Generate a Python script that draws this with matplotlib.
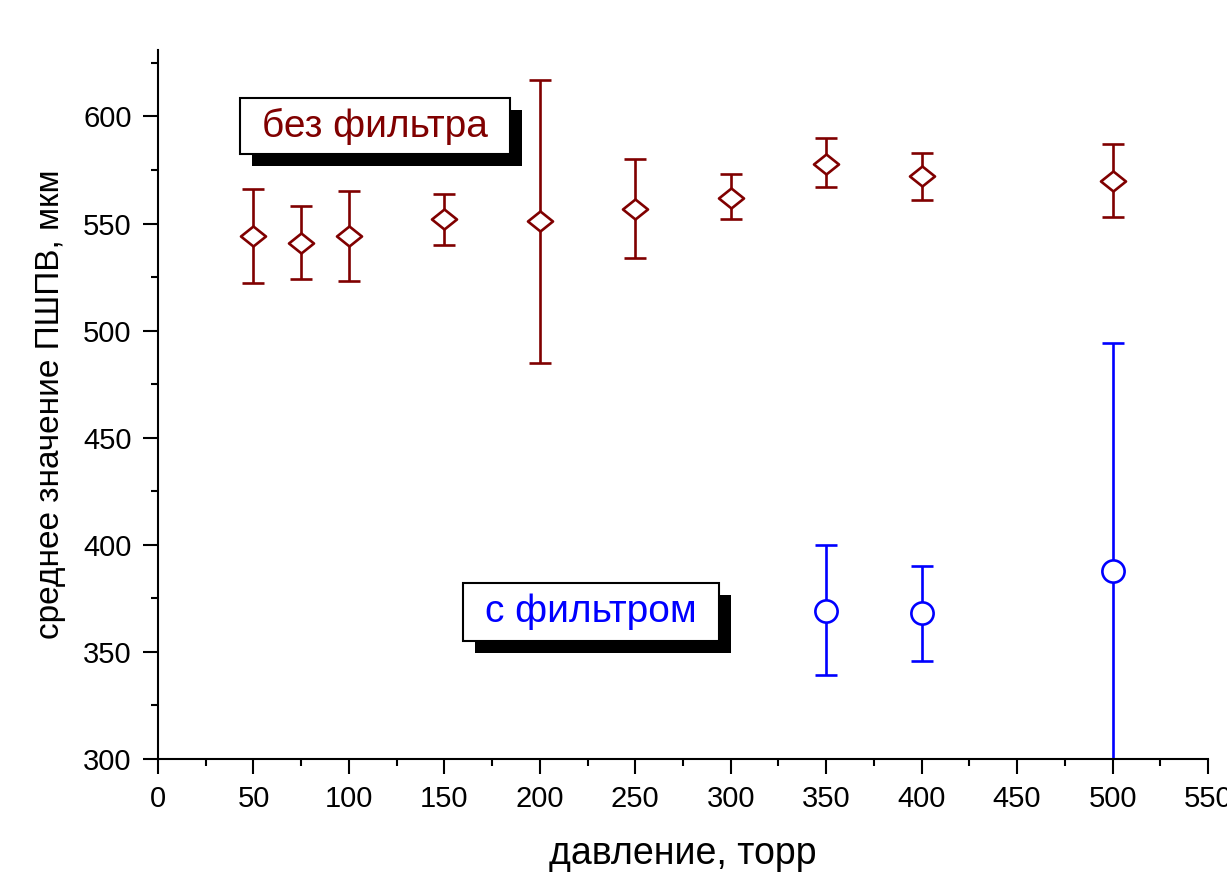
import numpy as np
import matplotlib
matplotlib.use("Agg")
import matplotlib.pyplot as plt
from matplotlib.path import Path
from matplotlib.patches import Rectangle
from matplotlib.ticker import MultipleLocator
from matplotlib import transforms

plt.rcParams['font.family'] = ['Liberation Sans', 'DejaVu Sans']

# --- measured FWHM vs pressure -------------------------------------------
p_nofilt   = [50, 75, 100, 150, 200, 250, 300, 350, 400, 500]
w_nofilt   = [544, 541, 544, 552, 551, 557, 562, 578, 572, 570]
lo_nofilt  = [22, 17, 21, 12, 66, 23, 10, 11, 11, 17]
hi_nofilt  = [22, 17, 21, 12, 66, 23, 11, 12, 11, 17]

p_filt     = [350, 400, 500]
w_filt     = [369, 368, 388]
lo_filt    = [30, 22, 106]
hi_filt    = [31, 22, 106]

RED  = "#800000"
BLUE = "#0000ff"
LW = 1.9

# slightly flattened diamond like the Origin default
diamond = Path([(-1, 0), (0, 0.8), (1, 0), (0, -0.8), (-1, 0)],
               [Path.MOVETO, Path.LINETO, Path.LINETO, Path.LINETO, Path.CLOSEPOLY])

fig = plt.figure(figsize=(12.27, 8.91), dpi=100)
ax = fig.add_axes([0.1288, 0.1481, 0.9845 - 0.1288, 0.9439 - 0.1481])

ax.errorbar(p_nofilt, w_nofilt, yerr=[lo_nofilt, hi_nofilt], fmt="none",
            ecolor=RED, elinewidth=LW, capsize=8, capthick=LW, zorder=2)
ax.plot(p_nofilt, w_nofilt, linestyle="none", marker=diamond, markersize=18,
        markerfacecolor="white", markeredgecolor=RED, markeredgewidth=LW, zorder=3)

ax.errorbar(p_filt, w_filt, yerr=[lo_filt, hi_filt], fmt="none",
            ecolor=BLUE, elinewidth=LW, capsize=8, capthick=LW, zorder=2)
ax.plot(p_filt, w_filt, linestyle="none", marker="o", markersize=16,
        markerfacecolor="white", markeredgecolor=BLUE, markeredgewidth=LW, zorder=3)

ax.set_xlim(0, 550)
ax.set_ylim(300, 631)
ax.xaxis.set_major_locator(MultipleLocator(50))
ax.xaxis.set_minor_locator(MultipleLocator(25))
ax.yaxis.set_major_locator(MultipleLocator(50))
ax.yaxis.set_minor_locator(MultipleLocator(25))

for s in ("top", "right"):
    ax.spines[s].set_visible(False)
for s in ("left", "bottom"):
    ax.spines[s].set_linewidth(1.5)

ax.tick_params(which="major", direction="out", length=11, width=1.5,
               labelsize=21, pad=8)
ax.tick_params(which="minor", direction="out", length=5, width=1.5)

ax.set_xlabel("давление, торр", fontsize=27, labelpad=16)
ax.set_ylabel("среднее значение ПШПВ, мкм", fontsize=24, labelpad=12)

# labelled boxes with a drop shadow (box corners in data units)
def shadow_label(x0, x1, y0, y1, s, color):
    shift = transforms.offset_copy(ax.transData, fig=fig, x=12, y=-12, units="dots")
    ax.add_patch(Rectangle((x0, y0), x1 - x0, y1 - y0, transform=shift,
                           fc="black", ec="none", zorder=4))
    ax.add_patch(Rectangle((x0, y0), x1 - x0, y1 - y0,
                           fc="white", ec="black", lw=1.5, zorder=5))
    ax.text((x0 + x1) / 2, (y0 + y1) / 2, s, color=color, fontsize=28,
            ha="center", va="center", zorder=6)

shadow_label(43, 184.4, 582.4, 608.6, "без фильтра", RED)
shadow_label(159.8, 293.9, 355.1, 382.2, "с фильтром", BLUE)

fig.savefig("out.png", dpi=100)
